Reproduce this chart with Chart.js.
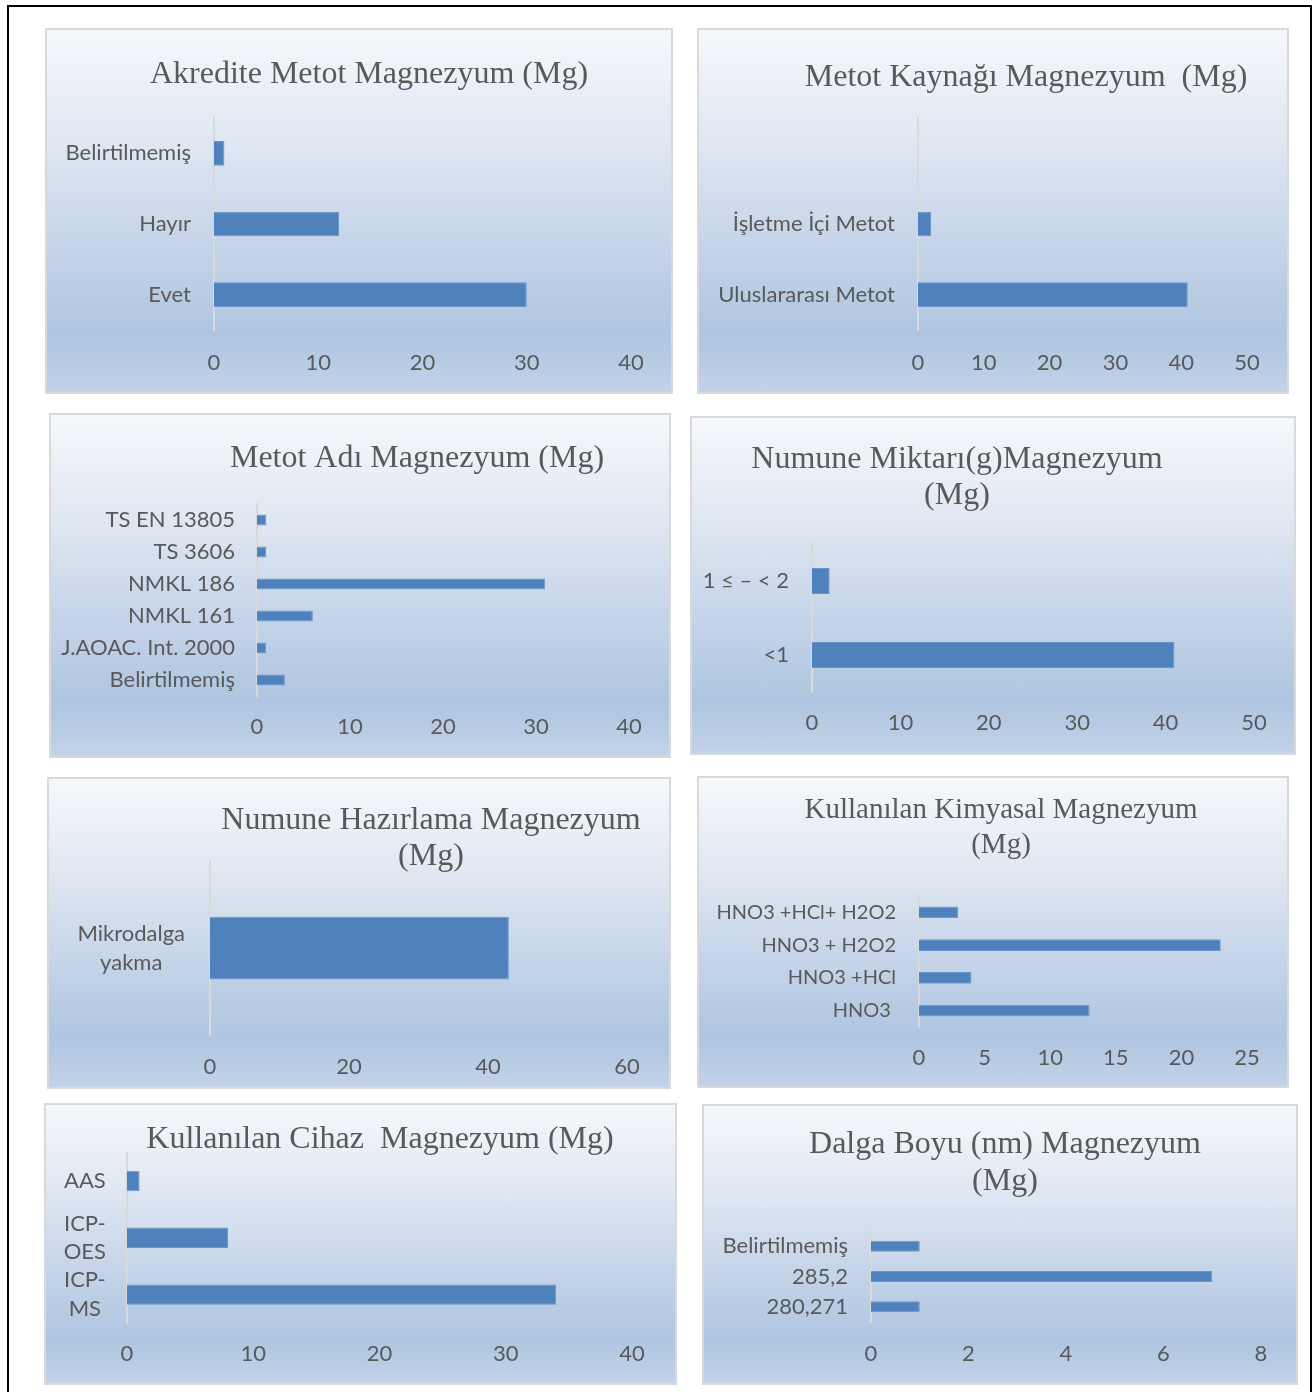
<!DOCTYPE html>
<html>
<head>
<meta charset="utf-8">
<script src="https://cdn.jsdelivr.net/npm/chart.js@4.4.1/dist/chart.umd.min.js"></script>
<style>
  html, body { margin: 0; padding: 0; background: #fff; }
  body { width: 1316px; height: 1392px; position: relative; overflow: hidden; }
  .frame { position: absolute; left: 7px; top: 5px; width: 1301px; height: 1400px; border: 2px solid #000; }
  .panel {
    position: absolute;
    background: linear-gradient(to bottom, #f6f8fc 0%, #e0e8f2 30%, #c6d5e9 58%, #afc5e1 84%, #c3d3e8 100%);
    box-shadow: inset 0 0 0 2px #d9d9d9;
  }
  .panel canvas { position: absolute; left: 0; top: 0; }
</style>
</head>
<body>
<div class="frame"></div>

<script>
// --- data ---
const akrediteLabels = ['Belirtilmemiş', 'Hayır', 'Evet'];
const akrediteValues = [1, 12, 30];
const akrediteTicks = [0, 10, 20, 30, 40];

const kaynakLabels = ['', 'İşletme İçi Metot', 'Uluslararası Metot'];
const kaynakValues = [null, 2, 41];
const kaynakTicks = [0, 10, 20, 30, 40, 50];

const metotAdiLabels = ['TS EN 13805', 'TS 3606', 'NMKL 186', 'NMKL 161', 'J.AOAC. Int. 2000', 'Belirtilmemiş'];
const metotAdiValues = [1, 1, 31, 6, 1, 3];
const metotAdiTicks = [0, 10, 20, 30, 40];

const miktarLabels = ['1 ≤ – < 2', '<1'];
const miktarValues = [2, 41];
const miktarTicks = [0, 10, 20, 30, 40, 50];

const hazirlamaLabels = [['Mikrodalga', 'yakma']];
const hazirlamaValues = [43];
const hazirlamaTicks = [0, 20, 40, 60];

const kimyasalLabels = ['HNO3 +HCl+ H2O2', 'HNO3 + H2O2', 'HNO3 +HCl', 'HNO3 '];
const kimyasalValues = [3, 23, 4, 13];
const kimyasalTicks = [0, 5, 10, 15, 20, 25];

const cihazLabels = ['AAS', ['ICP-', 'OES'], ['ICP-', 'MS']];
const cihazValues = [1, 8, 34];
const cihazTicks = [0, 10, 20, 30, 40];

const dalgaLabels = ['Belirtilmemiş', '285,2', '280,271'];
const dalgaValues = [1, 7, 1];
const dalgaTicks = [0, 2, 4, 6, 8];

// --- panels ---
const panels = [
  { title: ['Akredite Metot Magnezyum (Mg)'], labels: akrediteLabels, values: akrediteValues, ticks: akrediteTicks,
    box: [45, 28, 628, 366], yw: 169, top: 90, right: 42, xh: 64, tp: 20, tx: 324, ty: [47], yp: 23, bp: 0.35 },
  { title: ['Metot Kaynağı Magnezyum  (Mg)'], labels: kaynakLabels, values: kaynakValues, ticks: kaynakTicks,
    box: [697, 28, 592, 366], yw: 221, top: 90, right: 42, xh: 64, tp: 20, tx: 329, ty: [50], yp: 23, bp: 0.35 },
  { title: ['Metot Adı Magnezyum (Mg)'], labels: metotAdiLabels, values: metotAdiValues, ticks: metotAdiTicks,
    box: [49, 413, 622, 345], yw: 208, top: 91, right: 42, xh: 62, tp: 18, tx: 368, ty: [46], yp: 22, bp: 0.35 },
  { title: ['Numune Miktarı(g)Magnezyum', '(Mg)'], labels: miktarLabels, values: miktarValues, ticks: miktarTicks,
    box: [690, 416, 606, 339], yw: 122, top: 128, right: 42, xh: 63, tp: 18, tx: 267, ty: [44, 80], yp: 23, bp: 0.35 },
  { title: ['Numune Hazırlama Magnezyum', '(Mg)'], labels: hazirlamaLabels, values: hazirlamaValues, ticks: hazirlamaTicks,
    box: [47, 777, 624, 312], yw: 163, top: 84, right: 44, xh: 52, tp: 18, tx: 384, ty: [44, 80], yp: 25, bp: 0.36, center: true },
  { title: ['Kullanılan Kimyasal Magnezyum', '(Mg)'], labels: kimyasalLabels, values: kimyasalValues, ticks: kimyasalTicks,
    box: [697, 776, 592, 312], yw: 222, top: 120, right: 42, xh: 61, tp: 18, tx: 304, ty: [34, 69], yp: 23, bp: 0.36,
    titleSize: 29, labelSize: 20 },
  { title: ['Kullanılan Cihaz  Magnezyum (Mg)'], labels: cihazLabels, values: cihazValues, ticks: cihazTicks,
    box: [44, 1103, 633, 282], yw: 83, top: 45, right: 45, xh: 62, tp: 18, tx: 336, ty: [37], yp: 21, bp: 0.36, center: true },
  { title: ['Dalga Boyu (nm) Magnezyum', '(Mg)'], labels: dalgaLabels, values: dalgaValues, ticks: dalgaTicks,
    box: [702, 1104, 596, 281], yw: 169, top: 127, right: 37, xh: 63, tp: 19, tx: 303, ty: [41, 78], yp: 23, bp: 0.36 }
];

// title drawn at a fixed spot, like the Excel chart title
const panelTitle = {
  id: 'panelTitle',
  afterDraw(chart, args, opts) {
    const ctx = chart.ctx;
    ctx.save();
    ctx.font = opts.size + 'px "Liberation Serif", "Times New Roman", serif';
    ctx.fillStyle = '#595959';
    ctx.textAlign = 'center';
    ctx.textBaseline = 'middle';
    opts.lines.forEach((t, i) => ctx.fillText(t, opts.x, opts.y[i]));
    ctx.restore();
  }
};

Chart.defaults.font.family = 'Lato, "Open Sans", sans-serif';
Chart.defaults.color = '#595959';

panels.forEach(p => {
  const [x, y, w, h] = p.box;
  const div = document.createElement('div');
  div.className = 'panel';
  div.style.left = x + 'px';
  div.style.top = y + 'px';
  div.style.width = w + 'px';
  div.style.height = h + 'px';
  const canvas = document.createElement('canvas');
  canvas.width = w;
  canvas.height = h;
  div.appendChild(canvas);
  document.body.appendChild(div);

  const t = p.ticks;
  new Chart(canvas, {
    type: 'bar',
    data: {
      labels: p.labels,
      datasets: [{
        data: p.values,
        backgroundColor: '#4f81bd',
        borderColor: '#6b95c9',
        borderWidth: 1,
        barPercentage: p.bp,
        categoryPercentage: 1
      }]
    },
    plugins: [panelTitle],
    options: {
      indexAxis: 'y',
      responsive: false,
      animation: false,
      events: [],
      layout: { padding: { top: p.top, right: p.right, bottom: 0, left: 0 } },
      plugins: {
        legend: { display: false },
        tooltip: { enabled: false },
        panelTitle: { lines: p.title, x: p.tx, y: p.ty, size: p.titleSize || 32 }
      },
      scales: {
        x: {
          min: t[0], max: t[t.length - 1],
          ticks: { stepSize: t[1] - t[0], padding: p.tp, font: { size: 22 }, color: '#595959', maxRotation: 0 },
          grid: { display: false, drawTicks: false },
          border: { display: false },
          afterFit: s => { s.height = p.xh; }
        },
        y: {
          ticks: {
            padding: p.yp, font: { size: p.labelSize || 22, lineHeight: p.center ? 1.3 : 1.2 }, color: '#595959',
            crossAlign: p.center ? 'center' : 'near', autoSkip: false
          },
          grid: { display: false, drawTicks: false },
          border: { display: true, color: '#d9d9d9', width: 2 },
          afterFit: s => { s.width = p.yw; }
        }
      }
    }
  });
});
</script>
</body>
</html>
